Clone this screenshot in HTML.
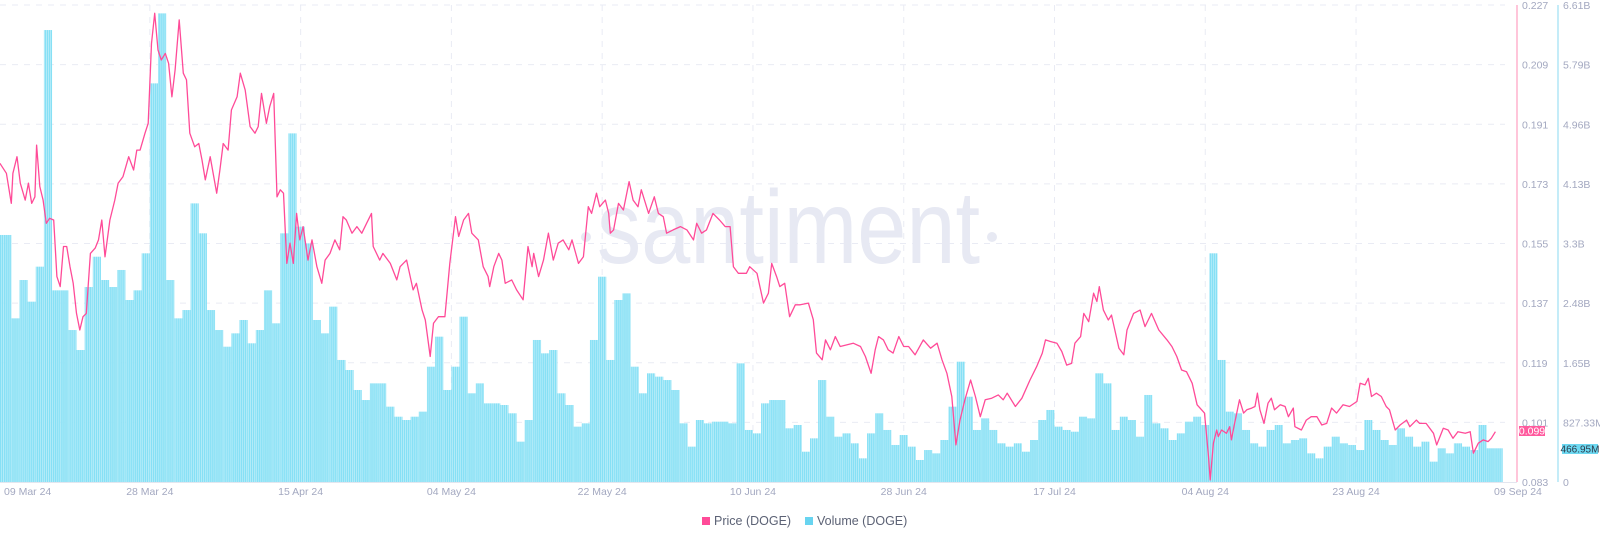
<!DOCTYPE html>
<html><head><meta charset="utf-8"><style>
html,body{margin:0;padding:0;background:#fff;}
svg{display:block;font-family:"Liberation Sans",sans-serif;}
</style></head><body>
<svg id="chart" width="1600" height="541" viewBox="0 0 1600 541" xmlns="http://www.w3.org/2000/svg">
<defs>
<pattern id="stripes" patternUnits="userSpaceOnUse" width="2.04" height="10">
<rect x="0" y="0" width="1.55" height="10" fill="#86e0f5"/>
<rect x="1.55" y="0" width="0.49" height="10" fill="#c8f0fa"/>
</pattern>
</defs>
<g id="grid"></g>
<text x="597" y="263" font-size="104" fill="#e7e9f3" textLength="383" lengthAdjust="spacingAndGlyphs">santiment</text>
<circle cx="586" cy="237" r="5" fill="#e7e9f3"/>
<circle cx="992" cy="237" r="5" fill="#e7e9f3"/>
<g id="bars"></g>
<path id="priceLine" fill="none" stroke="#ff4b98" stroke-width="1.3" stroke-linejoin="round"/>
<line x1="1517" y1="5" x2="1517" y2="482" stroke="#ff9fc2" stroke-width="1.2"/>
<line x1="1558" y1="5" x2="1558" y2="482" stroke="#9ee0f2" stroke-width="1.2"/>
<line x1="0" y1="482.5" x2="1517" y2="482.5" stroke="#e3e6ef" stroke-width="1"/>
<g id="axes"></g>
<g><rect x="1519" y="426" width="26" height="10" fill="#ff5a9e"/><text x="1532" y="434.5" font-size="10.5" fill="#fff" text-anchor="middle">0.099</text></g>
<g><rect x="1562" y="444" width="36" height="10" fill="#6dd8f1"/><text x="1580" y="452.5" font-size="10" fill="#2d3b4a" text-anchor="middle">466.95M</text></g>
<g>
<g><rect x="702" y="517" width="8" height="8" fill="#ff4b98"/><text x="714" y="525" font-size="12.5" fill="#5c6275">Price (DOGE)</text></g>
<g><rect x="805" y="517" width="8" height="8" fill="#68d4f0"/><text x="817" y="525" font-size="12.5" fill="#5c6275">Volume (DOGE)</text></g>
</g>
</svg>
<script>
const priceTicks=[0.083,0.101,0.119,0.137,0.155,0.173,0.191,0.209,0.227];
const volTickLabels=["0","827.33M","1.65B","2.48B","3.3B","4.13B","4.96B","5.79B","6.61B"];
const dateLabels=["28 Mar 24","15 Apr 24","04 May 24","22 May 24","10 Jun 24","28 Jun 24","17 Jul 24","04 Aug 24","23 Aug 24"];
const dateLabelDays=[19,37.5,56,74.5,93,111.5,130,148.5,167];
const priceDays=[0.6,1.4,2.0,2.2,2.7,3.1,3.7,4.1,4.5,4.9,5.1,5.5,5.9,6.3,6.7,7.2,7.6,8.0,8.4,8.8,9.2,9.6,10.0,10.4,10.8,11.2,11.7,12.3,12.7,13.1,13.5,14.1,14.7,15.1,15.7,16.4,17.0,17.4,17.8,18.4,18.8,19.2,19.6,20.0,20.4,20.9,21.3,21.7,22.1,22.6,23.1,23.5,23.9,24.5,25.0,25.4,25.8,26.4,27.2,27.6,28.0,28.6,29.0,29.7,30.1,30.7,31.3,31.9,32.3,32.7,33.3,33.7,34.2,34.6,35.0,35.4,35.8,36.2,36.6,37.0,37.4,37.8,38.4,38.9,39.5,40.1,40.5,41.1,41.7,42.3,42.7,43.1,43.8,44.4,45.0,45.6,46.2,46.4,47.2,47.6,48.5,49.3,49.7,
50.5,51.3,51.7,52.4,52.8,53.4,53.8,54.4,55.2,55.8,56.5,56.9,57.5,58.1,58.5,59.3,59.9,60.5,60.7,61.2,61.8,62.2,62.6,63.4,64.0,64.8,65.4,65.9,66.1,66.7,67.3,67.9,68.5,69.1,69.7,70.4,70.8,71.6,72.2,72.8,73.2,73.8,74.2,74.9,75.3,75.5,75.9,76.5,77.1,77.8,78.3,78.9,79.3,80.2,80.9,81.4,82.0,82.4,83.2,84.1,84.9,85.7,86.1,86.7,87.3,88.1,88.9,89.6,90.2,90.6,91.2,92.2,92.6,93.5,94.3,94.9,95.3,95.9,96.3,96.9,97.5,98.2,98.8,
99.8,100.4,100.8,101.5,101.9,102.5,103.1,103.7,104.5,105.3,106.2,106.8,107.5,108.0,108.4,109.0,109.6,110.2,110.9,111.5,112.1,112.9,113.9,114.8,115.6,116.2,116.8,117.4,117.9,118.4,119.0,119.7,120.3,120.9,121.5,122.3,123.1,123.7,124.2,125.2,126.0,127.0,127.8,128.5,128.9,129.5,130.3,130.9,131.5,132.1,132.5,133.2,133.6,134.2,134.8,135.2,135.5,136.0,136.6,137.0,137.9,138.5,138.9,139.7,140.5,141.1,141.9,142.8,143.8,144.4,145.0,145.6,146.2,146.9,147.5,
148.4,148.9,149.1,149.5,149.9,150.1,150.5,151.1,151.5,151.7,152.1,152.7,153.2,153.6,154.2,154.6,154.9,155.2,155.7,156.2,156.6,157.0,157.7,158.3,158.7,159.3,159.5,160.3,160.9,161.5,162.2,162.8,163.4,164.0,164.6,165.4,166.2,167.1,167.5,168.1,168.5,168.9,169.5,170.1,170.7,171.1,171.8,172.4,173.2,173.6,174.4,174.8,175.6,176.5,176.9,177.7,178.3,178.9,179.5,180.4,181.0,181.4,182.0,182.6,183.2,183.6,184.1];
const priceVals=[0.1792,0.1762,0.1671,0.1762,0.1812,0.1732,0.1681,0.1732,0.1671,0.1691,0.1847,0.1722,0.1681,0.1611,0.1626,0.1621,0.1450,0.1420,0.1541,0.1541,0.1480,0.1430,0.1339,0.1289,0.1329,0.1339,0.1520,0.1536,0.1561,0.1621,0.1510,0.1621,0.1681,0.1732,0.1752,0.1812,0.1772,0.1832,0.1832,0.1883,0.1913,0.2154,0.2245,0.2134,0.2104,0.2124,0.2094,0.1993,0.2074,0.2225,0.2064,0.2044,0.1883,0.1842,0.1852,0.1802,0.1742,0.1812,0.1702,0.1772,0.1852,0.1832,0.1953,0.1993,0.2064,0.2013,0.1903,0.1883,0.1903,0.2003,0.1913,0.1963,0.2003,0.1691,0.1712,0.1702,0.1490,0.1551,0.1490,0.1641,0.1561,0.1601,0.1500,0.1561,0.1480,0.1430,0.1500,0.1520,0.1561,0.1531,0.1631,0.1621,0.1581,0.1601,0.1581,0.1611,0.1641,0.1541,0.1500,0.1520,0.1490,0.1440,0.1480,
0.1500,0.1410,0.1430,0.1349,0.1319,0.1209,0.1309,0.1329,0.1329,0.1490,0.1631,0.1571,0.1621,0.1641,0.1581,0.1561,0.1480,0.1450,0.1420,0.1480,0.1520,0.1500,0.1430,0.1440,0.1410,0.1380,0.1541,0.1480,0.1520,0.1450,0.1500,0.1581,0.1500,0.1551,0.1561,0.1531,0.1561,0.1490,0.1510,0.1661,0.1641,0.1702,0.1661,0.1681,0.1641,0.1581,0.1591,0.1671,0.1651,0.1737,0.1681,0.1661,0.1712,0.1641,0.1691,0.1641,0.1631,0.1581,0.1591,0.1601,0.1591,0.1561,0.1611,0.1581,0.1591,0.1641,0.1621,0.1601,0.1601,0.1480,0.1460,0.1460,0.1480,0.1460,0.1370,0.1400,0.1490,0.1450,0.1420,0.1430,0.1329,0.1365,0.1365,
0.1370,0.1320,0.1219,0.1199,0.1259,0.1229,0.1269,0.1239,0.1244,0.1249,0.1239,0.1209,0.1158,0.1229,0.1269,0.1259,0.1229,0.1219,0.1269,0.1239,0.1239,0.1214,0.1259,0.1234,0.1249,0.1199,0.1158,0.1088,0.0942,0.1017,0.1078,0.1138,0.1088,0.1027,0.1078,0.1083,0.1093,0.1078,0.1098,0.1058,0.1083,0.1138,0.1178,0.1219,0.1259,0.1254,0.1249,0.1224,0.1183,0.1188,0.1249,0.1269,0.1339,0.1314,0.1400,0.1375,0.1420,0.1349,0.1319,0.1334,0.1234,0.1214,0.1289,0.1339,0.1349,0.1299,0.1339,0.1289,0.1259,0.1239,0.1209,0.1168,0.1163,0.1128,0.1063,
0.1038,0.0907,0.0836,0.0947,0.0987,0.0967,0.0987,0.0977,0.0997,0.0957,0.1007,0.1078,0.1038,0.1048,0.1053,0.1058,0.1098,0.1048,0.1007,0.1068,0.1083,0.1048,0.1063,0.1058,0.1027,0.1053,0.0997,0.0987,0.1017,0.1027,0.1027,0.1002,0.1007,0.1053,0.1038,0.1063,0.1058,0.1073,0.1128,0.1123,0.1143,0.1088,0.1098,0.1088,0.1058,0.1048,0.0987,0.1002,0.1017,0.0997,0.1017,0.1007,0.1007,0.0977,0.0942,0.0992,0.0987,0.0962,0.0982,0.0977,0.0982,0.0917,0.0947,0.0957,0.0952,0.0962,0.0982];
const volumeM=[3423,3423,2268,2799,2499,2984,6263,2656,2656,2106,1829,2702,3122,2799,2702,2938,2522,2656,3169,5524,6494,2799,2268,2383,3861,3446,2383,2106,1875,2060,2245,1922,2106,2656,2199,3446,4831,3538,3307,2245,2060,2430,1691,1552,1275,1136,1367,1367,1044,905,859,
905,975,1598,2014,1275,1598,2291,1229,1367,1090,1090,1067,952,559,859,1968,1783,1829,1229,1067,767,813,1968,2845,1691,2522,2614,1598,1229,1506,1460,1413,1275,813,490,859,813,836,836,813,1644,721,674,1090,1136,1136,744,790,
420,605,1413,905,628,674,536,328,674,952,721,513,651,490,305,443,397,582,1044,1667,1182,721,882,721,536,490,536,420,582,859,998,767,721,697,905,882,1506,1367,721,905,859,628,1206,813,744,582,674,836,905,790,
3169,1691,975,952,721,536,490,721,790,536,582,605,397,328,490,628,536,513,443,859,721,582,513,744,628,490,559,282,467,397,536,490,443,790,467,467];

const NS="http://www.w3.org/2000/svg";
const X0=-5, PXDAY=8.15, TOP=5, BOT=482;
function xDay(d){return X0+d*PXDAY;}
function yPrice(p){return TOP+(0.227-p)/(0.227-0.083)*(BOT-TOP);}
function yVol(v){return BOT-v/6610*(BOT-TOP);}
function mk(tag,attrs,parent){const e=document.createElementNS(NS,tag);for(const k in attrs)e.setAttribute(k,attrs[k]);parent.appendChild(e);return e;}
const grid=document.getElementById('grid'), axes=document.getElementById('axes'), bars=document.getElementById('bars');
priceTicks.forEach((p,i)=>{
  const y=yPrice(p);
  if(i>0){const l=mk('line',{x1:0,x2:1505,y1:y,y2:y,stroke:'#e9ebf4','stroke-dasharray':'6,6'},grid);
  
  }
  const t=mk('text',{x:1522,y:y+4,'font-size':10.5,fill:'#a3a8c0'},axes);t.textContent=p.toFixed(3);
  
  
  const t2=mk('text',{x:1563,y:y+4,'font-size':10.5,fill:'#a3a8c0'},axes);t2.textContent=volTickLabels[i];
  
  
});
dateLabelDays.forEach((d,i)=>{
  const x=xDay(d);
  const l=mk('line',{x1:x,x2:x,y1:TOP,y2:BOT,stroke:'#e9ebf4','stroke-dasharray':'6,6'},grid);
  
  
  const t=mk('text',{x:x,y:495,'font-size':10.5,fill:'#a3a8c0','text-anchor':'middle'},axes);t.textContent=dateLabels[i];
  
  
});
const tf=mk('text',{x:4,y:495,'font-size':10.5,fill:'#a3a8c0'},axes);tf.textContent="09 Mar 24";


const tl=mk('text',{x:1494,y:495,'font-size':10.5,fill:'#a3a8c0'},axes);tl.textContent="09 Sep 24";


volumeM.forEach((v,d)=>{
  const x=Math.max(0,xDay(d));const w=xDay(d)+PXDAY-x;const y=yVol(v);
  const r=mk('rect',{x:x,y:y,width:w,height:BOT-y,fill:'url(#stripes)'},bars);
  
  
});
let dstr='';
priceDays.forEach((d,i)=>{dstr+=(i?'L':'M')+xDay(d).toFixed(1)+','+yPrice(priceVals[i]).toFixed(1);});
document.getElementById('priceLine').setAttribute('d',dstr);
</script>
</body></html>
